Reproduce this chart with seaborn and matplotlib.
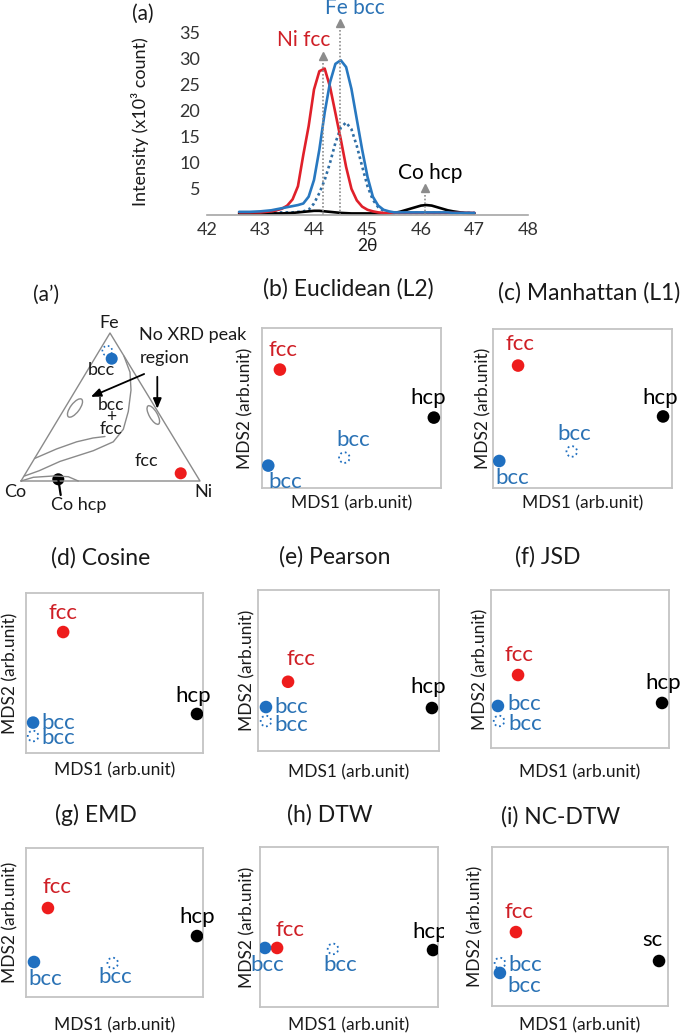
import numpy as np
import pandas as pd
import seaborn as sns
import matplotlib.pyplot as plt
from matplotlib.patches import Ellipse
from matplotlib.transforms import Bbox

W, H = 685, 1035

# ---- (a) XRD patterns
two_theta = [42.6, 42.8, 43.0, 43.2, 43.3, 43.4, 43.5, 43.6, 43.7, 43.8,
             43.9, 44.0, 44.1, 44.2, 44.3, 44.4, 44.5, 44.6, 44.7, 44.8,
             44.9, 45.0, 45.1, 45.2, 45.3, 45.4, 45.5, 45.6, 45.7, 45.8,
             45.9, 46.0, 46.1, 46.2, 46.3, 46.4, 46.5, 46.6, 46.8, 47.0]
ni_fcc = [0.5, 0.5, 0.5, 0.7, 0.9, 1.2, 1.8, 3.0, 5.5, 11.5,
          17.0, 24.0, 27.5, 28.0, 24.5, 19.5, 14.5, 9.2, 5.0, 2.8,
          1.6, 1.0, 0.7, 0.5, 0.4, 0.4, 0.4, 0.4, 0.4, 0.4,
          0.4, 0.4, 0.4, 0.4, 0.4, 0.4, 0.4, 0.4, 0.4, 0.4]
fe_bcc = [0.6, 0.6, 0.7, 0.9, 1.1, 1.3, 1.5, 1.7, 1.9, 2.2,
          3.5, 6.7, 12.5, 19.6, 25.4, 28.9, 29.6, 28.3, 24.1, 18.3,
          12.5, 7.3, 3.5, 1.8, 1.0, 0.7, 0.5, 0.5, 0.5, 0.5,
          0.5, 0.5, 0.5, 0.5, 0.5, 0.5, 0.5, 0.4, 0.4, 0.4]
bcc_dotted = [0.5, 0.5, 0.5, 0.5, 0.5, 0.5, 0.5, 0.5, 0.6, 0.7,
              1.0, 2.2, 4.2, 6.7, 10.0, 13.8, 16.7, 17.7, 16.4, 13.2,
              9.3, 5.5, 2.9, 1.5, 0.8, 0.5, 0.4, 0.4, 0.4, 0.4,
              0.4, 0.4, 0.4, 0.4, 0.4, 0.4, 0.4, 0.4, 0.4, 0.4]
co_hcp = [0.3, 0.3, 0.3, 0.3, 0.3, 0.3, 0.35, 0.4, 0.5, 0.6,
          0.7, 0.8, 0.8, 0.7, 0.6, 0.5, 0.4, 0.35, 0.3, 0.3,
          0.3, 0.3, 0.3, 0.3, 0.3, 0.35, 0.4, 0.6, 0.9, 1.2,
          1.5, 1.8, 1.9, 1.8, 1.5, 1.2, 0.9, 0.7, 0.4, 0.3]
peak_names = ["Ni fcc", "Fe bcc", "Co hcp"]
peak_pos = [44.17, 44.49, 46.07]
peak_top = [30.5, 36.8, 5.2]
peak_label_x = [43.8, 44.77, 46.17]
peak_label_y = [33.4, 39.5, 8.0]

# ---- (a') ternary sketch (Co at origin, Ni right, Fe on top)
tri_u = [0, 179, 89, 0]
tri_v = [0, 0, 148, 0]
outer_u = [103, 109, 110, 107.3, 102.3, 92.3, 72.3, 39, 18, 3.5]
outer_v = [124.8, 108.8, 90.9, 69.5, 51.7, 39.2, 30.3, 19.6, 10.2, 5.0]
inner_u = [13.5, 35.7, 55.7, 72, 84]
inner_v = [22.5, 32.1, 39.2, 43.0, 44.5]
lens_u = [0, 12.3, 32.3, 47.3, 57.3]
lens_v = [0, 3.7, 5.0, 4.3, 0]
tern_pts_u = [90.7, 159.7, 37.3]
tern_pts_v = [122.3, 7.7, 1.7]
tern_pts_kind = ["bcc", "fcc", "hcp"]
tern_dotted_u = [86.3]
tern_dotted_v = [130.2]

# ---- (b)-(i) MDS maps; order: fcc, hcp, bcc (dotted), bcc (solid)
panel_ids = ["b", "c", "d", "e", "f", "g", "h", "i"]
panel_titles = ["(b) Euclidean (L2)", "(c) Manhattan (L1)", "(d) Cosine",
                "(e) Pearson", "(f) JSD", "(g) EMD", "(h) DTW", "(i) NC-DTW"]
point_kinds = ["fcc", "hcp", "bcc_dot", "bcc"]
mds1 = {
    "b": [0.10, 0.96, 0.46, 0.035],
    "c": [0.14, 0.95, 0.44, 0.035],
    "d": [0.21, 0.966, 0.04, 0.04],
    "e": [0.166, 0.961, 0.044, 0.044],
    "f": [0.152, 0.961, 0.045, 0.039],
    "g": [0.124, 0.966, 0.49, 0.045],
    "h": [0.096, 0.972, 0.41, 0.028],
    "i": [0.136, 0.949, 0.045, 0.045],
}
mds2 = {
    "b": [0.74, 0.44, 0.19, 0.14],
    "c": [0.77, 0.45, 0.23, 0.17],
    "d": [0.756, 0.244, 0.106, 0.19],
    "e": [0.43, 0.267, 0.186, 0.273],
    "f": [0.462, 0.285, 0.171, 0.266],
    "g": [0.597, 0.409, 0.228, 0.235],
    "h": [0.369, 0.356, 0.363, 0.369],
    "i": [0.465, 0.283, 0.27, 0.208],
}
point_names = {p: ["fcc", "hcp", "bcc", "bcc"] for p in panel_ids}
point_names["i"] = ["fcc", "sc", "bcc", "bcc"]

# layout (pixels)
boxes = {
    "b": (262, 328, 441, 488), "c": (493, 329, 672, 488),
    "d": (26, 593, 203, 753), "e": (258, 590, 439, 751),
    "f": (491, 590, 669, 748), "g": (26, 848, 203, 997),
    "h": (260, 847, 438, 1007), "i": (492, 847, 668, 1006),
}
xticks_px = {
    "b": [294, 332, 370, 408], "c": [525, 564, 603, 642],
    "d": [58, 97, 137, 176], "e": [261, 288, 314, 341, 368, 395, 422],
    "f": [510, 544, 578, 612, 647], "g": [58, 97, 137, 176],
    "h": [285, 328, 372, 415], "i": [513, 544, 575, 606, 637],
}
yticks_px = {
    "b": [358, 392, 426, 459], "c": [355, 390, 424, 459],
    "d": [609, 640, 671, 702, 732], "e": [606, 630, 654, 678, 702, 726, 750],
    "f": [610, 641, 672, 703, 733], "g": [872, 907, 943, 978],
    "h": [867, 907, 946, 984], "i": [875, 903, 931, 959, 987],
}
title_pos = {"b": (348, 289), "c": (589, 293), "d": (101, 558), "e": (335, 557),
             "f": (548, 557), "g": (96, 815), "h": (330, 815), "i": (561, 817)}
ylabel_x = {"b": 245, "c": 483, "d": 10, "e": 247, "f": 480, "g": 10, "h": 247, "i": 475}
xlabel_y = {"b": 503, "c": 503, "d": 770, "e": 772, "f": 772, "g": 1025, "h": 1025, "i": 1025}
label_off = {
    "b": [(3, 20), (-6, 20), (9, 18), (17, -16)],
    "c": [(2, 22), (-3, 18), (2, 17), (13, -17)],
    "d": [(0, 19), (-4, 18), (25, -2), (25, 0)],
    "e": [(13, 23), (-4, 21), (25, -4), (25, 0)],
    "f": [(1, 20), (1, 20), (26, -3), (26, 2)],
    "g": [(9, 21), (0, 19), (3, -14), (11, -17)],
    "h": [(13, 18), (-3, 18), (7, -16), (2, -17)],
    "i": [(3, 20), (-7, 21), (25, -2), (24, -13)],
}

RED = "#ee1c1c"
RED_TXT = "#cf1f26"
BLUE = "#1f6fc0"
BLUE_TXT = "#2a72b5"
kind_color = {"fcc": RED, "hcp": "black", "bcc": BLUE, "bcc_dot": BLUE}
text_color = {"fcc": RED_TXT, "hcp": "black", "bcc": BLUE_TXT, "bcc_dot": BLUE_TXT}

sns.set_style("white")
plt.rcParams["font.family"] = ["Lato", "DejaVu Sans"]
plt.rcParams["text.color"] = "#1a1a1a"

fig = plt.figure(figsize=(W / 100, H / 100), dpi=100)


def px_box(x0, y0, x1, y1):
    return [x0 / W, 1 - y1 / H, (x1 - x0) / W, (y1 - y0) / H]


def ftext(x, y, s, **kw):
    fig.text(x / W, 1 - y / H, s, ha=kw.pop("ha", "center"), va=kw.pop("va", "center"), **kw)


# ---------------- (a)
ax = fig.add_axes(px_box(207, 32, 528, 215))
df_xrd = pd.DataFrame({
    "two_theta": two_theta * 4,
    "intensity": bcc_dotted + co_hcp + ni_fcc + fe_bcc,
    "phase": ["bcc_dot"] * 40 + ["hcp"] * 40 + ["fcc"] * 40 + ["bcc"] * 40,
})
sns.lineplot(data=df_xrd, x="two_theta", y="intensity", hue="phase", style="phase",
             palette={"bcc_dot": "#2f6ea5", "hcp": "black", "fcc": "#e0202a", "bcc": "#2878c0"},
             dashes={"bcc_dot": (1, 1.2), "hcp": "", "fcc": "", "bcc": ""},
             linewidth=1.9, legend=False, sort=False, ax=ax)
for pos, top in zip(peak_pos, peak_top):
    ax.plot([pos, pos], [0, top - 1.0], color="#8c8c8c", lw=1.2, ls=(0, (1, 1.2)), clip_on=False)
    ax.plot([pos], [top], marker="^", color="#8c8c8c", ms=6, clip_on=False)
for name, lx, ly, c in zip(peak_names, peak_label_x, peak_label_y, [RED_TXT, BLUE_TXT, "black"]):
    ax.text(lx, ly, name, color=c, fontsize=15, ha="center", va="center", clip_on=False)
ax.set_xlim(42, 48)
ax.set_ylim(0, 35)
ax.set_xticks([42, 43, 44, 45, 46, 47, 48])
ax.set_yticks([5, 10, 15, 20, 25, 30, 35])
ax.tick_params(axis="x", length=4, color="#a0a0a0", labelsize=13, pad=1, labelcolor="#333333")
ax.tick_params(axis="y", length=0, labelsize=13, pad=5, labelcolor="#333333")
for s in ["left", "top", "right"]:
    ax.spines[s].set_visible(False)
ax.spines["bottom"].set_color("#a6a6a6")
ax.spines["bottom"].set_linewidth(1.2)
ax.set_xlabel("")
ax.set_ylabel("")
ftext(367, 246, "2θ", fontsize=12.5)
ftext(140, 122, "Intensity (x10³ count)", fontsize=13, rotation=90)
ftext(143, 14, "(a)", fontsize=15)

# ---------------- (a')
tx = fig.add_axes(px_box(0, 280, 240, 520))
tx.set_xlim(-21, 219)
tx.set_ylim(-39, 201)
tx.axis("off")
tx.plot(tri_u, tri_v, color="#8a8a8a", lw=1.0)
tx.plot(outer_u, outer_v, color="#8a8a8a", lw=1.0)
tx.plot(inner_u, inner_v, color="#8a8a8a", lw=1.0)
tx.plot(lens_u, lens_v, color="#8a8a8a", lw=1.0)
tx.add_patch(Ellipse((54, 73), 22, 9, angle=53, fill=False, ec="#8a8a8a", lw=1.0))
tx.add_patch(Ellipse((132.3, 66), 21, 8, angle=-60, fill=False, ec="#8a8a8a", lw=1.0))
tx.plot([37.3, 39.7], [1.7, -14], color="black", lw=1.6)
df_tern = pd.DataFrame({"u": tern_pts_u, "v": tern_pts_v, "kind": tern_pts_kind})
sns.scatterplot(data=pd.DataFrame({"u": tern_dotted_u, "v": tern_dotted_v}), x="u", y="v",
                s=50, color="white", edgecolor=BLUE, linewidth=1.2, linestyle=":", ax=tx)
sns.scatterplot(data=df_tern, x="u", y="v", hue="kind", palette=kind_color, s=75,
                edgecolor="none", legend=False, ax=tx)
tx.set_xlabel("")
tx.set_ylabel("")
tern_text = [("Fe", 88.3, 157.5), ("Co", -6, -10.7), ("Ni", 182.3, -10.7),
             ("Co hcp", 57.3, -24), ("bcc", 80.7, 110.6), ("fcc", 125.7, 19.6)]
for s, u, v in tern_text:
    tx.text(u, v, s, fontsize=13, ha="center", va="center")
for s, v in [("bcc", 76.5), ("+", 64.5), ("fcc", 51.5)]:
    tx.text(90, v, s, fontsize=12.5, ha="center", va="center", linespacing=1.0)
tx.text(118.3, 146.2, "No XRD peak", fontsize=13, ha="left", va="center", clip_on=False)
tx.text(118.3, 123, "region", fontsize=13, ha="left", va="center")
arrow_kw = dict(arrowstyle="-|>,head_length=0.6,head_width=0.25", color="black", lw=1.3)
tx.annotate("", xy=(67.3, 83.1), xytext=(125.7, 108.1), arrowprops=arrow_kw)
tx.annotate("", xy=(136.3, 69.5), xytext=(136.3, 107), arrowprops=arrow_kw)
ftext(46, 295, "(a’)", fontsize=15)

# ---------------- (b)-(i)
rows = []
for p in panel_ids:
    for k, x, y, n in zip(point_kinds, mds1[p], mds2[p], point_names[p]):
        rows.append({"panel": p, "kind": k, "MDS1": x, "MDS2": y, "name": n})
df_mds = pd.DataFrame(rows)

for p, title in zip(panel_ids, panel_titles):
    x0, y0, x1, y1 = boxes[p]
    ax = fig.add_axes(px_box(x0, y0, x1, y1))
    sub = df_mds[df_mds["panel"] == p]
    dot = sub[sub["kind"] == "bcc_dot"]
    solid = sub[sub["kind"] != "bcc_dot"]
    sns.scatterplot(data=dot, x="MDS1", y="MDS2", s=58, color="white", edgecolor=BLUE,
                    linewidth=1.3, linestyle=":", ax=ax, zorder=3)
    sns.scatterplot(data=solid, x="MDS1", y="MDS2", hue="kind", palette=kind_color, s=82,
                    edgecolor="none", legend=False, ax=ax, zorder=4)
    for (_, r), off in zip(sub.iterrows(), label_off[p]):
        t = ax.annotate(r["name"], (r["MDS1"], r["MDS2"]), xytext=(off[0] * 0.72, off[1] * 0.72),
                        textcoords="offset points", ha="center", va="center", fontsize=16,
                        color=text_color[r["kind"]], annotation_clip=False, zorder=5)
        if p == "h" and r["kind"] == "hcp":
            # the label runs past the frame and is cut off in the original
            t.set_clip_box(Bbox.from_extents(0, 0, x1 + 6, H))
            t.set_clip_on(True)
    ax.set_xlim(0, 1)
    ax.set_ylim(0, 1)
    ax.set_xticks([(t - x0) / (x1 - x0) for t in xticks_px[p]])
    ax.set_yticks([(y1 - t) / (y1 - y0) for t in yticks_px[p]])
    ax.set_xticklabels([])
    ax.set_yticklabels([])
    ax.tick_params(length=3, width=0.9, color="#a8a8a8", direction="out")
    for s in ax.spines.values():
        s.set_color("#c4c4c4")
        s.set_linewidth(1.3)
    ax.set_xlabel("")
    ax.set_ylabel("")
    ftext(*title_pos[p], title, fontsize=16.5)
    ftext((x0 + x1) / 2, xlabel_y[p], "MDS1 (arb.unit)", fontsize=12.5)
    ftext(ylabel_x[p], (y0 + y1) / 2, "MDS2 (arb.unit)", fontsize=12.5, rotation=90)

fig.savefig("out.png", dpi=100, facecolor="white")
